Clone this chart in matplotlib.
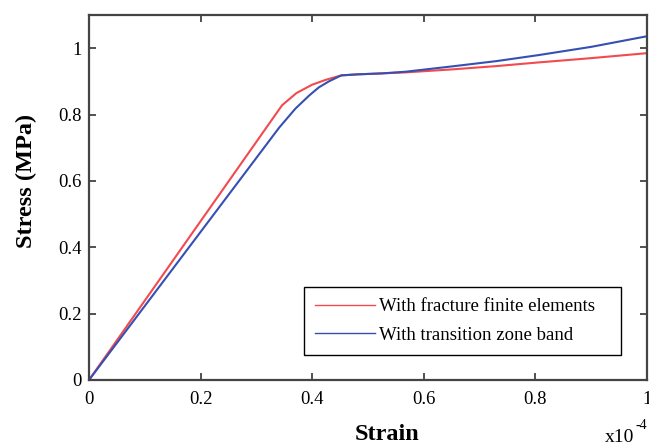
import numpy as np
import matplotlib
matplotlib.use("Agg")
import matplotlib.pyplot as plt

plt.rcParams['font.family'] = ['Liberation Serif', 'DejaVu Serif']

# strain in units of 1e-4, stress in MPa
strain_ffe = [0.0, 0.346, 0.372, 0.400, 0.425, 0.452, 0.480,
              0.567, 0.650, 0.730, 0.805, 0.900, 1.000]
stress_ffe = [0.0, 0.828, 0.865, 0.890, 0.905, 0.918, 0.921,
              0.927, 0.936, 0.946, 0.957, 0.970, 0.985]

strain_tzb = [0.0, 0.341, 0.370, 0.395, 0.412, 0.430, 0.452, 0.480,
              0.525, 0.567, 0.650, 0.730, 0.805, 0.900, 1.000]
stress_tzb = [0.0, 0.761, 0.818, 0.858, 0.882, 0.900, 0.918, 0.921,
              0.924, 0.929, 0.945, 0.961, 0.979, 1.004, 1.036]

xticks = [0, 0.2, 0.4, 0.6, 0.8, 1]
yticks = [0, 0.2, 0.4, 0.6, 0.8, 1]
ticklabels = ['0', '0.2', '0.4', '0.6', '0.8', '1']

red = '#f24a4e'
blue = '#3650b2'

fig = plt.figure(figsize=(6.49, 4.46), dpi=100)
ax = fig.add_axes([89 / 649, 1 - 380 / 446, (647 - 89) / 649, (380 - 15) / 446])

ax.plot(strain_ffe, stress_ffe, color=red, lw=1.5, label='With fracture finite elements')
ax.plot(strain_tzb, stress_tzb, color=blue, lw=1.5, label='With transition zone band')

ax.set_xlim(0, 1)
ax.set_ylim(0, 1.1)
ax.set_xticks(xticks)
ax.set_xticklabels(ticklabels)
ax.set_yticks(yticks)
ax.set_yticklabels(ticklabels)
ax.tick_params(direction='in', top=True, right=True, length=5, width=1.2,
               labelsize=13.5, colors='#333333', labelcolor='black')
ax.tick_params(axis='y', pad=5)
ax.tick_params(axis='x', pad=8)
for s in ax.spines.values():
    s.set_linewidth(1.6)
    s.set_color('#444444')

fig.text(26 / 649, 1 - 181 / 446, 'Stress (MPa)', fontsize=17.5, fontweight='bold',
         rotation=90, ha='center', va='center')
fig.text(387 / 649, 1 - 434 / 446, 'Strain', fontsize=17.5, fontweight='bold',
         ha='center', va='center')
fig.text(605 / 649, 1 - 446 / 446, 'x10', fontsize=14, ha='left', va='bottom')
fig.text(636 / 649, 1 - 432 / 446, '-4', fontsize=10, ha='left', va='bottom')

leg = ax.legend(loc='upper left', mode='expand',
                bbox_to_anchor=(304 / 649, 1 - 353 / 446, 317 / 649, 66 / 446),
                bbox_transform=fig.transFigure, fontsize=13.5, frameon=True,
                fancybox=False, edgecolor='black', framealpha=1,
                handlelength=3.2, handletextpad=0.2, borderpad=0.6,
                labelspacing=0.6, borderaxespad=0)
leg.get_frame().set_linewidth(1.0)
for line in leg.get_lines():
    line.set_linewidth(1.0)

fig.savefig('out.png', dpi=100)
